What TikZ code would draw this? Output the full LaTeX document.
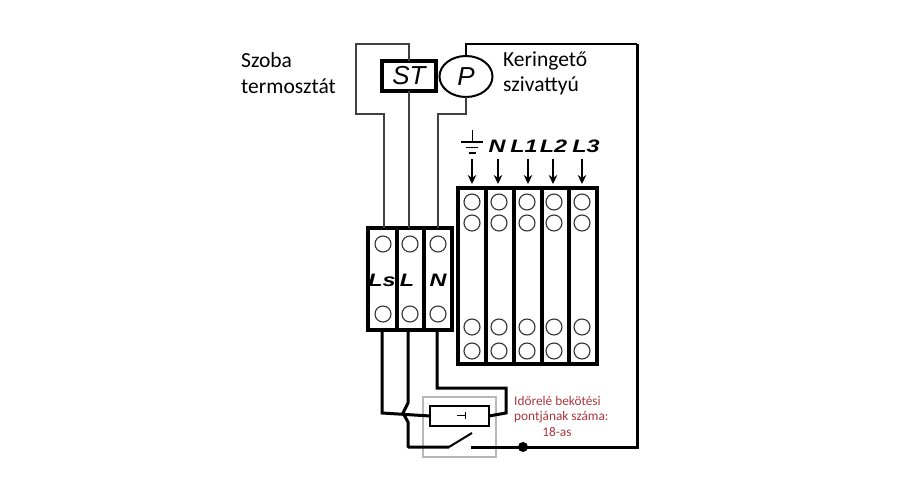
\documentclass[tikz,border=0pt]{standalone}
\usepackage{fontspec}
\usetikzlibrary{shapes.geometric,arrows.meta}
\setmainfont{Carlito}
\newfontfamily\tagfont{Liberation Sans}
\definecolor{wirered}{RGB}{170,55,60}
\newcommand{\wide}[1]{\scalebox{1.3}[1]{#1}}
\tikzset{
  thinwire/.style={draw=black!75,line width=1.2pt},
  wire/.style={draw=black,line width=3pt},
  block/.style={draw=black,line width=3.4pt,outer sep=0pt,inner sep=0pt},
  hole/.style={circle,draw=black!80,line width=1.1pt,minimum size=16pt,inner sep=0pt},
  feed/.style={line width=2pt,-{Stealth[length=9pt,width=8.5pt]}},
  tag/.style={font=\tagfont\bfseries\itshape\fontsize{18}{18}\selectfont,inner sep=0pt},
  caption/.style={font=\fontsize{21.5}{21.5}\selectfont,anchor=base west,inner sep=0pt},
  note/.style={font=\fontsize{13.3}{13.3}\selectfont,text=wirered,inner sep=0pt},
  bigtag/.style={font=\tagfont\itshape\fontsize{26}{26}\selectfont}
}
\begin{document}
\begin{tikzpicture}[x=1pt,y=-1pt]
  \useasboundingbox (0,0) rectangle (900,500);

  % texts
  \node (szoba)[caption] at (241,68) {Szoba};
  \node (termo)[caption] at (241,94) {termosztát};
  \node (kering)[caption] at (503,66.5) {Keringető};
  \node (sziv)[caption] at (503,92) {szivattyú};
  \node (note1)[note,anchor=base west] at (514,405) {Időrelé bekötési};
  \node (note2)[note,anchor=base west] at (514,420.5) {pontjának száma:};
  \node (note3)[note,anchor=base] at (557,436) {18-as};

  % thermostat and pump
  \node (st)[block,bigtag,minimum width=54pt,minimum height=30pt] at (409,76) {ST};
  \node (p)[ellipse,draw=black,line width=2pt,outer sep=0pt,inner sep=0pt,minimum width=53pt,minimum height=41pt,bigtag] at (466,76.5) {P};

  % small terminal block
  \foreach \name/\x/\w/\txt/\lx in {ls/382.5/29/Ls/382,l/410.5/27/L/407,n/438/28/N/438} {
    \node (\name)[block,minimum width=\w pt,minimum height=102pt] at (\x,279) {};
    \node (\name tag)[tag] at (\lx,280) {\wide{\txt}};
  }
  \foreach \name/\x in {ls/383,l/410,n/438} {
    \node (\name top)[hole] at (\x,244) {};
    \node (\name bot)[hole] at (\x,314) {};
  }

  % large terminal block
  \foreach \name/\x/\w in {pe/472/28,nn/500/28,la/528/28,lb/555.5/27,lc/583/28}
    \node (\name)[block,minimum width=\w pt,minimum height=176pt] at (\x,276) {};
  \foreach \name/\x in {pe/472,nn/499,la/527,lb/554,lc/582} {
    \node (\name1)[hole] at (\x,202) {};
    \node (\name2)[hole] at (\x,223) {};
    \node (\name3)[hole] at (\x,327) {};
    \node (\name4)[hole] at (\x,351) {};
  }

  % supply labels with arrows
  \foreach \name/\x/\lx/\txt in {nn/498/497/N,la/528/524/L1,lb/553/553.5/L2,lc/582/586/L3} {
    \node (\name tag)[tag] at (\lx,146) {\wide{\txt}};
    \coordinate (\name from) at (\x,159);
    \coordinate (\name to) at (\x,184);
    \draw[feed] (\name from) -- (\name to);
  }
  \coordinate (pefrom) at (472,159);
  \coordinate (peto) at (472,184);
  \draw[feed] (pefrom) -- (peto);

  % earth symbol
  \coordinate (earth) at (472,130);
  \coordinate (earthb) at (472,142);
  \draw[line width=.8pt] (earth) -- (earthb);
  \draw[line width=1.2pt] (461,142) -- (483,142);
  \draw[line width=1.5pt] (466,147.5) -- (478,147.5);
  \draw[line width=2pt] (468.5,153) -- (475.5,153);

  % relay
  \node (relay)[draw=black!28,line width=1.6pt,minimum width=73pt,minimum height=60pt,outer sep=0pt] at (459.5,427) {};
  \node (coil)[draw=black,fill=white,line width=2pt,minimum width=59pt,minimum height=20pt,outer sep=0pt,inner sep=0pt] at (459.5,416) {};
  \coordinate (coilv) at (465,412);
  \coordinate (coilw) at (465,419);
  \coordinate (coilc) at (465,415.5);
  \coordinate (coild) at (457,415.5);
  \draw[line width=.8pt] (coilv) -- (coilw) (coilc) -- (coild);

  % thin wires
  \coordinate (a1) at (356,44);
  \coordinate (a2) at (409,44);
  \coordinate (a3) at (356,114);
  \coordinate (a4) at (384,114);
  \coordinate (a5) at (438,114);
  \coordinate (a6) at (466,114);
  \draw[thinwire] (st.north) -- (a2) -- (a1) -- (a3) -- (a4) -- (a4 |- ls.north);
  \draw[thinwire] (st.south) -- (st.south |- l.north);
  \draw[thinwire] (p.south) -- (a6) -- (a5) -- (a5 |- n.north);

  % thick wires
  \coordinate (b1) at (466,44);
  \coordinate (b2) at (637,44);
  \coordinate (b3) at (637,447);
  \coordinate (c1) at (471,447);
  \coordinate (sw1) at (449,447);
  \coordinate (sw2) at (472,433);
  \coordinate (d1) at (408,447);
  \coordinate (d2) at (408,422);
  \coordinate (d3) at (403,413);
  \coordinate (d4) at (408,403);
  \coordinate (e1) at (382,413);
  \coordinate (f1) at (506,413);
  \coordinate (f2) at (506,388);
  \coordinate (f3) at (437,388);
  \draw[line width=2.4pt] (p.north) -- (b1) -- (b2);
  \draw[wire] (b2) -- (b3) -- (c1);
  \node (dot)[circle,fill=black,minimum size=10pt,inner sep=0pt] at (523,447) {};
  \draw[wire,line join=round] (l.south -| d4) -- (d4) -- (d3) -- (d2) -- (d1) -- (sw1);
  \draw[line width=2pt] (sw1) -- (sw2);
  \draw[wire] (ls.south -| e1) -- (e1) -- (coil.west);
  \draw[wire] (coil.east) -- (f1) -- (f2) -- (f3) -- (f3 |- n.south);
\end{tikzpicture}
\end{document}
